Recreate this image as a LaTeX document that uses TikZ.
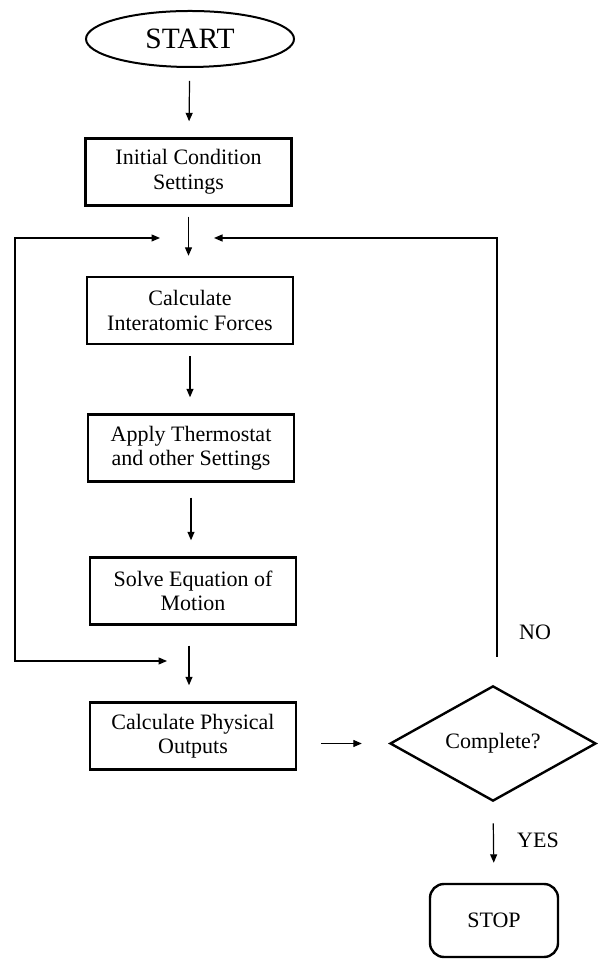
\documentclass[tikz,border=0pt]{standalone}
\usepackage{fontspec}
\setmainfont{Liberation Serif}
\usetikzlibrary{arrows.meta,positioning,calc,shapes.geometric}

\begin{document}
\begin{tikzpicture}[x=1pt,y=1pt,
      box/.style={draw,line width=2.4pt,minimum width=206pt,minimum height=67pt,
                  align=center,inner sep=0pt,font=\fontsize{22}{24.5}\selectfont},
      term/.style={draw,ellipse,line width=2pt,minimum width=208pt,minimum height=56pt,
                   inner sep=0pt,font=\fontsize{29.5}{32}\selectfont},
      halt/.style={draw,rounded corners=14pt,line width=2.4pt,minimum width=128pt,
                   minimum height=73pt,inner sep=0pt,font=\fontsize{22}{24}\selectfont},
      test/.style={draw,diamond,line width=2.4pt,minimum width=206pt,minimum height=115pt,
                   inner sep=0pt,font=\fontsize{22}{24}\selectfont},
      lbl/.style={inner sep=0pt,font=\fontsize{22}{24}\selectfont},
      fl/.style={-{Triangle[length=8.5pt,width=7pt]},line width=1.2pt},
      bfl/.style={{Triangle[length=8.5pt,width=7pt]}-{Triangle[length=8.5pt,width=7pt]},line width=1.2pt},
      link/.style={fl,shorten <=13pt,shorten >=16pt}]
    \useasboundingbox (0,0) rectangle (597,960);
    \node[term] (start) at (190,921) {START};
    \node[box] (init) at (188.5,788) {Initial Condition\\Settings};
    \node[box] (force) at (190,649.5) {Calculate\\Interatomic Forces};
    \node[box] (thermo) at (191,512) {Apply Thermostat\\and other Settings};
    \node[box] (motion) at (193,369) {Solve Equation of\\Motion};
    \node[box] (out) at (193,224) {Calculate Physical\\Outputs};
    \node[test] (done) at (493,216.5) {Complete?};
    \node[halt] (stop) at (494,39.5) {STOP};
    \node[lbl] (no) at (535,328) {NO};
    \node[lbl] (yes) at (538,120) {YES};
    % loop entry points
    \coordinate (inL) at (160,722);
    \coordinate (inR) at (214,722);
    \coordinate (inL2) at (167,299);
    \coordinate (lb) at (15,299);
    \draw[link] (start) -- (init);
    \draw[link,shorten <=10pt,shorten >=20pt] (init.south) -- (init.south |- force.north);
    \draw[link,shorten <=11pt] (force.south) -- (force.south |- thermo.north);
    \draw[link,shorten <=15pt] (thermo.south) -- (thermo.south |- motion.north);
    \draw[link,shorten <=20pt] ([xshift=-4pt]motion.south) -- ([xshift=-4pt]motion.south |- out.north);
    \draw[link,shorten <=24pt,shorten >=27pt] (out.east |- done) -- (done.west);
    \draw[link,shorten <=21pt,shorten >=20pt] (done.south) -- (stop.north);
    \draw[fl,shorten <=28pt] ([xshift=4pt]done.north) |- (inR);
    \draw[bfl] (inL) -| (lb) -- (inL2);
  \end{tikzpicture}
\end{document}
